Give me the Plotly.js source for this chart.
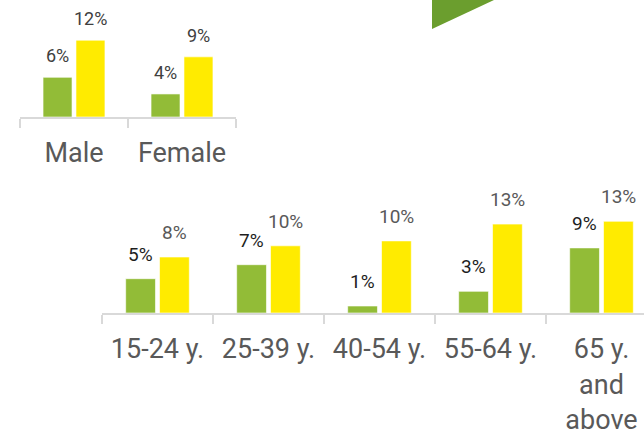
<!DOCTYPE html>
<html><head><meta charset="utf-8">
<script src="https://cdn.plot.ly/plotly-3.0.1.min.js"></script>
<style>html,body{margin:0;padding:0;background:#fff;}#chart{width:644px;height:430px;}</style>
</head><body><div id="chart"></div>
<script>
// Gender chart
const genderCats = ['Male', 'Female'];
const genderGreen = [6.2, 3.6];
const genderYellow = [12.0, 9.4];
// Age chart
const ageCats = ['15-24 y.', '25-39 y.', '40-54 y.', '55-64 y.', '65 y.<br>and<br>above'];
const ageGreen = [4.9, 6.9, 1.0, 3.1, 9.3];
const ageYellow = [8.0, 9.6, 10.3, 12.7, 13.1];

const GREEN = '#92bc37', YELLOW = '#ffeb00';
const barLine = {color: 'rgba(255,255,255,0.6)', width: 1};
const traces = [
  {type:'bar', x: genderCats, y: genderGreen, xaxis:'x', yaxis:'y', marker:{color:GREEN, line:barLine}, hoverinfo:'none'},
  {type:'bar', x: genderCats, y: genderYellow, xaxis:'x', yaxis:'y', marker:{color:YELLOW, line:barLine}, hoverinfo:'none'},
  {type:'bar', x: ageCats, y: ageGreen, xaxis:'x2', yaxis:'y2', marker:{color:GREEN, line:barLine}, hoverinfo:'none'},
  {type:'bar', x: ageCats, y: ageYellow, xaxis:'x2', yaxis:'y2', marker:{color:YELLOW, line:barLine}, hoverinfo:'none'}
];

const BARGAP = 0.39;
const off = (1 - BARGAP) / 4; // center offset of each bar in group
const annotations = [];
function addLabels(vals, xref, yref, sign, color, size, shift) {
  vals.forEach((v, i) => {
    annotations.push({x: i + sign * off, y: v, xref: xref, yref: yref, text: Math.round(v) + '%',
      showarrow: false, yanchor: 'bottom', xanchor: 'center', yshift: shift,
      font: {family: 'Roboto, sans-serif', size: size, color: color}});
  });
}
addLabels(genderGreen, 'x', 'y', -1, '#404040', 18, 9);
addLabels(genderYellow, 'x', 'y', 1, '#404040', 18, 9);
addLabels(ageGreen, 'x2', 'y2', -1, '#1e1e1e', 19, 11);
addLabels(ageYellow, 'x2', 'y2', 1, '#595959', 19, 11);

const axisCommon = {type:'category', showgrid:false, zeroline:false, showline:true, linecolor:'#d9d9d9', linewidth:2,
  ticks:'outside', tickson:'boundaries', ticklen:9, tickcolor:'#d9d9d9', tickwidth:2, ticklabelstandoff:11,
  tickfont:{family:'Roboto, sans-serif', size:27, color:'#595959'}, fixedrange:true};

const layout = {
  width: 644, height: 430, margin: {l:0, r:0, t:0, b:0},
  paper_bgcolor:'#fff', plot_bgcolor:'rgba(0,0,0,0)', showlegend:false,
  barmode:'group', bargap: BARGAP, bargroupgap: 0.12,
  xaxis: Object.assign({}, axisCommon, {domain:[20/644, 236/644], range:[-0.5, 1.5], anchor:'y'}),
  yaxis: {domain:[(430-117)/430, 1], range:[0, 117/6.4], visible:false, fixedrange:true},
  xaxis2: Object.assign({}, axisCommon, {domain:[102/644, 1], range:[-0.5, -0.5 + 542/111], anchor:'y2'}),
  yaxis2: {domain:[(430-313)/430, (430-180)/430], range:[0, 133/7.0], visible:false, fixedrange:true},
  annotations: annotations,
  shapes: [{type:'path', xref:'paper', yref:'paper', path:'M ' + (432/644) + ',1 L ' + (432/644) + ',' + (1-29/430) + ' L ' + (494/644) + ',1 Z',
    fillcolor:'#6b9e2e', line:{width:0}, layer:'above'}]
};
Plotly.newPlot('chart', traces, layout, {displayModeBar:false, staticPlot:true});
</script></body></html>
